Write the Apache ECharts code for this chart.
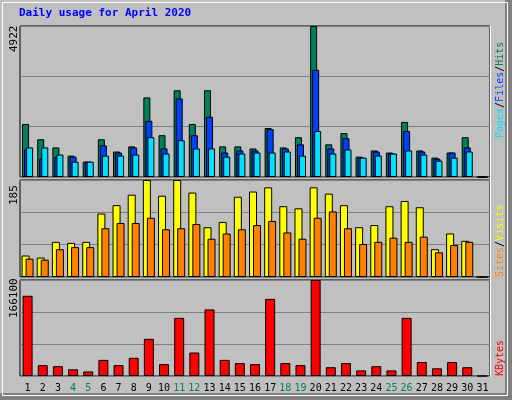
<!DOCTYPE html>
<html>
<head>
<meta charset="utf-8">
<script src="https://cdn.jsdelivr.net/npm/echarts@6/dist/echarts.min.js"></script>
<style>
body { margin: 0; background: #c0c0c0; }
#chart { width: 512px; height: 400px; }
</style>
</head>
<body>
<div id="chart"></div>
<script>
var days = [];
for (var i = 1; i <= 31; i++) days.push(String(i));
var weekends = ['4', '5', '11', '12', '18', '19', '25', '26'];

var hits = [1729, 1230, 964, 698, 500, 1230, 831, 998, 2594, 1363, 2827, 1729, 2827, 998, 998, 931,
	1596, 964, 1297, 4922, 1064, 1430, 665, 865, 798, 1796, 865, 632, 798, 1297, 0];
var files = [898, 599, 665, 665, 500, 1031, 798, 964, 1829, 931, 2561, 1363, 1962, 798, 865, 865,
	1563, 931, 1064, 3492, 931, 1264, 632, 831, 765, 1497, 831, 599, 798, 964, 0];
var pages = [964, 964, 732, 500, 500, 698, 698, 732, 1297, 765, 1197, 931, 931, 665, 765, 798,
	798, 831, 698, 1497, 765, 898, 632, 698, 765, 865, 732, 532, 632, 831, 0];
var visits = [41, 37, 67, 65, 67, 121, 137, 157, 185, 155, 185, 161, 95, 105, 153, 163,
	171, 135, 131, 171, 159, 137, 95, 99, 135, 145, 133, 53, 83, 69, 0];
var sites = [35, 33, 53, 57, 57, 93, 103, 103, 113, 91, 93, 101, 73, 83, 91, 99,
	107, 85, 73, 113, 125, 93, 63, 67, 75, 67, 77, 47, 61, 67, 0];
var kbytes = [138800, 18800, 17000, 11500, 7900, 27900, 18800, 31500, 64300, 20600, 100600, 40600,
	115200, 27900, 22400, 20600, 133400, 22400, 18800, 166100, 15200, 22400, 9700, 17000, 9700,
	100600, 24200, 13300, 24200, 15200, 0];
var maxHits = 4922, maxVisits = 185, maxKB = 166100;

var mono = 'DejaVu Sans Mono';
var barBorder = { borderColor: '#000', borderWidth: 1 };

function xAxis(idx, showLabels) {
	return {
		type: 'category', data: days, gridIndex: idx,
		axisLine: { show: false }, axisTick: { show: false },
		axisLabel: {
			show: showLabels, interval: 0, hideOverlap: false, fontFamily: mono, fontSize: 10, margin: 7,
			color: function (v) { return weekends.indexOf(v) >= 0 ? '#00805c' : '#000'; }
		}
	};
}
function yAxis(idx, max) {
	return {
		type: 'value', gridIndex: idx, min: 0, max: max, interval: max / 3,
		axisLabel: { show: false },
		axisLine: { show: false }, axisTick: { show: false },
		splitLine: { lineStyle: { color: '#808080', width: 1 } }
	};
}

var chart = echarts.init(document.getElementById('chart'));
chart.setOption({
	backgroundColor: '#c0c0c0',
	animation: false,
	grid: [
		{ left: 20, right: 22, top: 26, height: 151, show: true, borderColor: '#000', borderWidth: 1, backgroundColor: '#c0c0c0' },
		{ left: 20, right: 22, top: 180, height: 97, show: true, borderColor: '#000', borderWidth: 1, backgroundColor: '#c0c0c0' },
		{ left: 20, right: 22, top: 280, height: 96, show: true, borderColor: '#000', borderWidth: 1, backgroundColor: '#c0c0c0' }
	],
	xAxis: [xAxis(0, false), xAxis(1, false), xAxis(2, true)],
	yAxis: [yAxis(0, maxHits), yAxis(1, maxVisits), yAxis(2, maxKB)],
	series: [
		{ name: 'Hits', type: 'bar', xAxisIndex: 0, yAxisIndex: 0, data: hits, barWidth: 7, barGap: '-71%', itemStyle: Object.assign({ color: '#00805c' }, barBorder) },
		{ name: 'Files', type: 'bar', xAxisIndex: 0, yAxisIndex: 0, data: files, barWidth: 7, barGap: '-71%', itemStyle: Object.assign({ color: '#0040ff' }, barBorder) },
		{ name: 'Pages', type: 'bar', xAxisIndex: 0, yAxisIndex: 0, data: pages, barWidth: 7, barGap: '-71%', itemStyle: Object.assign({ color: '#00e0ff' }, barBorder) },
		{ name: 'Visits', type: 'bar', xAxisIndex: 1, yAxisIndex: 1, data: visits, barWidth: 8, barGap: '-50%', itemStyle: Object.assign({ color: '#ffff00' }, barBorder) },
		{ name: 'Sites', type: 'bar', xAxisIndex: 1, yAxisIndex: 1, data: sites, barWidth: 8, barGap: '-50%', itemStyle: Object.assign({ color: '#ff8000' }, barBorder) },
		{ name: 'KBytes', type: 'bar', xAxisIndex: 2, yAxisIndex: 2, data: kbytes, barWidth: 10, itemStyle: Object.assign({ color: '#ff0000' }, barBorder) }
	],
	graphic: [
		{ type: 'rect', left: 505, top: 0, shape: { width: 7, height: 400 }, style: { fill: '#808080' } },
		{ type: 'rect', left: 0, top: 393, shape: { width: 512, height: 7 }, style: { fill: '#808080' } },
		{ type: 'rect', left: 0, top: 0, shape: { width: 505, height: 393 }, style: { fill: 'none', stroke: '#fff', lineWidth: 1 } },
		{ type: 'line', shape: { x1: 490.5, y1: 26, x2: 490.5, y2: 377 }, style: { stroke: '#fff', lineWidth: 1 } },
		{ type: 'text', left: 19, top: 8, style: { text: 'Daily usage for April 2020', font: 'bold 11px "DejaVu Sans Mono"', fill: '#0000ff' } },
		{ type: 'text', x: 9, y: 52, rotation: Math.PI / 2, style: { text: String(maxHits), font: '11px "DejaVu Sans Mono"', fill: '#000', align: 'left', verticalAlign: 'top' } },
		{ type: 'text', x: 9, y: 205, rotation: Math.PI / 2, style: { text: String(maxVisits), font: '11px "DejaVu Sans Mono"', fill: '#000', align: 'left', verticalAlign: 'top' } },
		{ type: 'text', x: 9, y: 318, rotation: Math.PI / 2, style: { text: String(maxKB), font: '11px "DejaVu Sans Mono"', fill: '#000', align: 'left', verticalAlign: 'top' } },
		{ type: 'text', x: 495, y: 138, rotation: Math.PI / 2, style: {
			text: '{p|Pages}{s|/}{f|Files}{s|/}{h|Hits}', font: '10px "DejaVu Sans Mono"', align: 'left', verticalAlign: 'top',
			rich: { p: { fill: '#00e0ff', fontFamily: mono, fontSize: 10 }, f: { fill: '#0040ff', fontFamily: mono, fontSize: 10 }, h: { fill: '#00805c', fontFamily: mono, fontSize: 10 }, s: { fill: '#000', fontFamily: mono, fontSize: 10 } }
		} },
		{ type: 'text', x: 495, y: 277, rotation: Math.PI / 2, style: {
			text: '{o|Sites}{s|/}{y|Visits}', font: '10px "DejaVu Sans Mono"', align: 'left', verticalAlign: 'top',
			rich: { o: { fill: '#ff8000', fontFamily: mono, fontSize: 10 }, y: { fill: '#ffff00', fontFamily: mono, fontSize: 10 }, s: { fill: '#000', fontFamily: mono, fontSize: 10 } }
		} },
		{ type: 'text', x: 495, y: 376, rotation: Math.PI / 2, style: { text: 'KBytes', font: '10px "DejaVu Sans Mono"', fill: '#ff0000', align: 'left', verticalAlign: 'top' } }
	]
});
</script>
</body>
</html>
